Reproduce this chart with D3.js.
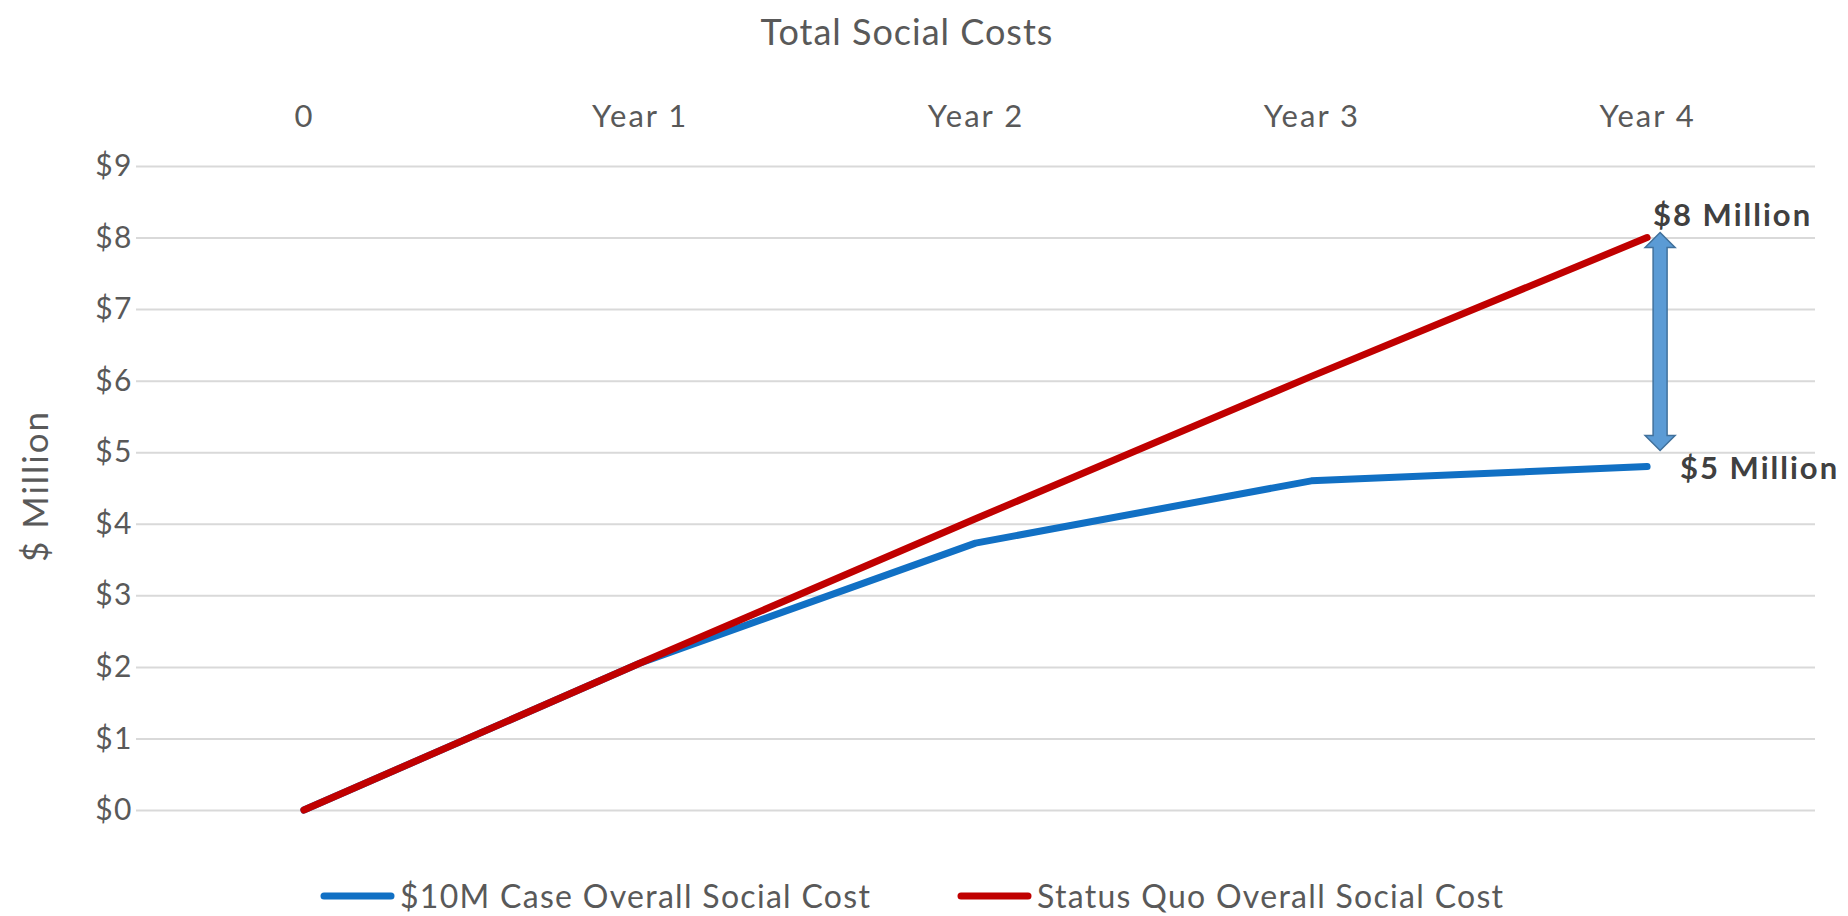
<!DOCTYPE html>
<html>
<head>
<meta charset="utf-8">
<script src="https://cdn.jsdelivr.net/npm/d3@7"></script>
<style>
  body { margin: 0; background: #fff; }
  svg text { font-family: Lato, "Open Sans", sans-serif; }
</style>
</head>
<body>
<script>
'use strict';

// chart data
const categories = ["0", "Year 1", "Year 2", "Year 3", "Year 4"];
const caseCost = [0, 2.05, 3.73, 4.6, 4.8];       // $10M Case Overall Social Cost
const statusQuoCost = [0, 2.05, 4.07, 6.06, 8.0]; // Status Quo Overall Social Cost
const yTicks = [0, 1, 2, 3, 4, 5, 6, 7, 8, 9];
const seriesNames = ["$10M Case Overall Social Cost", "Status Quo Overall Social Cost"];
const noteLabels = ["$8 Million", "$5 Million"];

const m = {width: 1848, height: 916};
const plot = {left: 136, right: 1815, top: 166, bottom: 810};
const colors = {blue: "#1170C4", red: "#C00000", grid: "#D9D9D9", text: "#595959"};

const svg = d3.select('body')
  .append('svg')
  .attr('width', m.width)
  .attr('height', m.height);

// scales
const x = d3.scalePoint()
  .domain(categories)
  .range([plot.left, plot.right])
  .padding(0.5);

const y = d3.scaleLinear()
  .domain([0, 9])
  .range([plot.bottom, plot.top]);

// title
svg.append('text')
  .attr('x', 907)
  .attr('y', 45)
  .attr('text-anchor', 'middle')
  .style('font-size', '36px')
  .style('letter-spacing', '1px')
  .attr('fill', colors.text)
  .text('Total Social Costs');

// gridlines + y labels
const yAxis = d3.axisLeft(y)
  .tickValues(yTicks)
  .tickSize(-(plot.right - plot.left))
  .tickPadding(3)
  .tickFormat((d) => "$" + d);

const gy = svg.append('g')
  .attr('transform', 'translate(' + plot.left + ', 0)')
  .call(yAxis);
gy.select('.domain').remove();
gy.selectAll('line').attr('stroke', colors.grid).attr('stroke-width', 2);
gy.selectAll('text')
  .attr('fill', colors.text)
  .style('font-size', '30px')
  .style('letter-spacing', '1.5px')
  .style('font-family', 'Lato, sans-serif');

// category labels on top
const xAxis = d3.axisTop(x).tickSize(0).tickPadding(0);
const gx = svg.append('g')
  .attr('transform', 'translate(0, 127)')
  .call(xAxis);
gx.select('.domain').remove();
gx.selectAll('text')
  .attr('fill', colors.text)
  .attr('dy', 0)
  .style('font-size', '31px')
  .style('letter-spacing', '2px')
  .style('font-family', 'Lato, sans-serif');

// y axis title
svg.append('text')
  .attr('transform', 'translate(48, 486)rotate(-90)')
  .attr('text-anchor', 'middle')
  .style('font-size', '35px')
  .style('letter-spacing', '2px')
  .attr('fill', colors.text)
  .text('$ Million');

// lines
const line = d3.line()
  .x((d, i) => x(categories[i]))
  .y((d) => y(d));

svg.append('path')
  .datum(caseCost)
  .attr('d', line)
  .attr('fill', 'none')
  .attr('stroke', colors.blue)
  .attr('stroke-width', 7)
  .attr('stroke-linecap', 'round')
  .attr('stroke-linejoin', 'round');

svg.append('path')
  .datum(statusQuoCost)
  .attr('d', line)
  .attr('fill', 'none')
  .attr('stroke', colors.red)
  .attr('stroke-width', 7)
  .attr('stroke-linecap', 'round')
  .attr('stroke-linejoin', 'round');

// double headed arrow between the two end values
const ax = x("Year 4") + 13;
const aTop = y(statusQuoCost[4]) - 5;
const aBot = y(caseCost[4]) - 16;
const hw = 15, sw = 7, hl = 15;
const arrowPts = [
  [ax, aTop], [ax + hw, aTop + hl], [ax + sw, aTop + hl],
  [ax + sw, aBot - hl], [ax + hw, aBot - hl], [ax, aBot],
  [ax - hw, aBot - hl], [ax - sw, aBot - hl], [ax - sw, aTop + hl],
  [ax - hw, aTop + hl]
];
svg.append('path')
  .attr('d', 'M' + arrowPts.join('L') + 'Z')
  .attr('fill', '#5B9BD5')
  .attr('stroke', '#41719C')
  .attr('stroke-width', 1.5);

// end labels
svg.append('text')
  .attr('x', x("Year 4") + 6)
  .attr('y', y(statusQuoCost[4]) - 12)
  .style('font-size', '31px')
  .style('letter-spacing', '2px')
  .style('font-weight', 'bold')
  .attr('fill', '#404040')
  .text(noteLabels[0]);

svg.append('text')
  .attr('x', x("Year 4") + 33)
  .attr('y', y(caseCost[4]) + 12)
  .style('font-size', '31px')
  .style('letter-spacing', '2px')
  .style('font-weight', 'bold')
  .attr('fill', '#404040')
  .text(noteLabels[1]);

// legend
const legendX = [324, 961];
const legendColors = [colors.blue, colors.red];
const lg = svg.append('g');
seriesNames.forEach((name, i) => {
  lg.append('line')
    .attr('x1', legendX[i]).attr('x2', legendX[i] + 67)
    .attr('y1', 896).attr('y2', 896)
    .attr('stroke', legendColors[i])
    .attr('stroke-width', 7)
    .attr('stroke-linecap', 'round');
  lg.append('text')
    .attr('x', legendX[i] + 76)
    .attr('y', 908)
    .style('font-size', '32px')
    .style('letter-spacing', '1.3px')
    .attr('fill', colors.text)
    .text(name);
});
</script>
</body>
</html>
